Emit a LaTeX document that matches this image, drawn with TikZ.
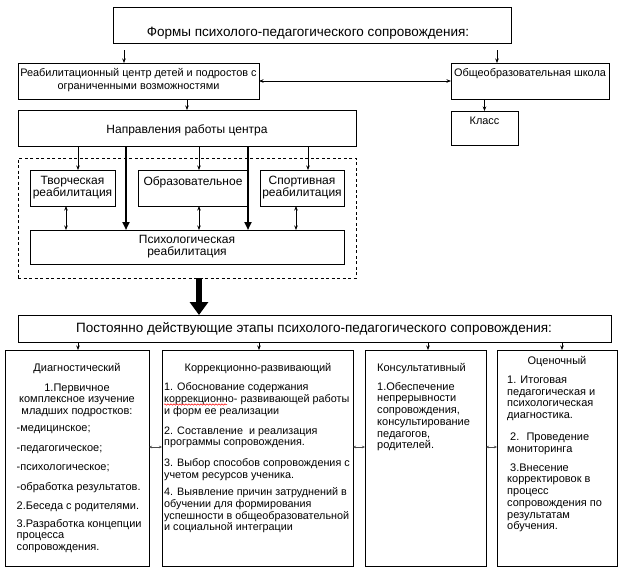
\documentclass[tikz,border=0pt]{standalone}
\usepackage{fontspec}
\setmainfont{Liberation Sans}
\usetikzlibrary{arrows.meta,fit,decorations.pathmorphing}
\begin{document}
\begin{tikzpicture}[x=1pt,y=-1pt,
  box/.style={draw, line width=0.8pt, inner sep=0pt, outer sep=0pt},
  dbox/.style={draw, line width=0.8pt, dash pattern=on 3pt off 2.5pt, inner sep=0pt, outer sep=0pt},
  ttl/.style={font=\fontsize{13.5}{15}\selectfont, inner sep=0pt},
  mid/.style={font=\fontsize{12}{12}\selectfont, align=center, inner sep=0pt},
  sml/.style={font=\fontsize{10.9}{13}\selectfont, align=center, inner sep=0pt},
  col/.style={font=\fontsize{11}{11.7}\selectfont, inner sep=0pt, execute at begin node=\strut},
  kcol/.style={font=\fontsize{10.8}{11.7}\selectfont, inner sep=0pt, execute at begin node=\strut},
  arr/.style={-{Stealth[length=4.5pt,width=3.5pt]}, line width=0.6pt},
  darr/.style={{Stealth[length=4.5pt,width=3.5pt]}-{Stealth[length=4.5pt,width=3.5pt]}, line width=0.6pt},
  tarr/.style={-{Triangle[length=8pt,width=7pt]}, line width=2.4pt},
  barr/.style={-{Triangle[length=13pt,width=18pt]}, line width=6pt},
  sarr/.style={{Stealth[length=3pt,width=2.5pt]}-{Stealth[length=3pt,width=2.5pt]}, line width=0.4pt, black!70}
]
\fill[white] (0,0) rectangle (622,571);
\useasboundingbox (0,0) rectangle (622,571);

% coordinates for connector positions
\coordinate (x124) at (124,0);
\coordinate (x497) at (497,0);
\coordinate (x78) at (78,0);
\coordinate (x199) at (199,0);
\coordinate (x308) at (308,0);
\coordinate (x126) at (126,0);
\coordinate (x248) at (248,0);
\coordinate (x66) at (66,0);
\coordinate (x296) at (296,0);
\coordinate (xs1) at (78,0);
\coordinate (xs2) at (259,0);
\coordinate (xs3) at (428,0);
\coordinate (xs4) at (562,0);
\coordinate (y447) at (0,447);

% top part
\node[box, fit={(113,7)(511,43)}] (top) {};
\node[ttl] (toptxt) at (308,33) {Формы психолого-педагогического сопровождения:};
\node[box, fit={(18,63)(259,99)}] (reh) {};
\node[sml] (rehtxt) at (138.5,80.5) {Реабилитационный центр детей и подростов с\\ограниченными возможностями};
\node[box, fit={(451,63)(609,99)}] (sch) {};
\node[sml] (schtxt) at (530,74) {Общеобразовательная школа};
\node[box, fit={(451,111)(518,145)}] (kl) {};
\node[sml] (kltxt) at (484.5,121) {Класс};
\node[box, fit={(18,110)(356,146)}] (napr) {};
\node[mid] (naprtxt) at (187,130) {Направления работы центра};

% dashed group
\node[dbox, fit={(18,158)(356,278)}] (dash) {};
\node[box, fit={(30,170)(115,206)}] (tv) {};
\node[mid] (tvtxt) at (72.5,188) {Творческая\\реабилитация};
\node[box, fit={(138,170)(248,206)}] (obr) {};
\node[mid] (obrtxt) at (193,182) {Образовательное};
\node[box, fit={(260,170)(344,206)}] (sp) {};
\node[mid] (sptxt) at (302,188) {Спортивная\\реабилитация};
\node[box, fit={(30,230)(344,264)}] (ps) {};
\node[mid] (pstxt) at (187,247) {Психологическая\\реабилитация};

% stage bar
\node[box, fit={(18,315)(611,342)}] (stage) {};
\node[ttl] (stagetxt) at (314,329) {Постоянно действующие этапы психолого-педагогического сопровождения:};

% columns
\node[box, fit={(5,350)(149,566)}] (dg) {};
\node[box, fit={(162,350)(353,566)}] (kr) {};
\node[box, fit={(365,350)(486,566)}] (ks) {};
\node[box, fit={(497,350)(617,566)}] (oc) {};

\node[col, align=center, anchor=north] (dgA) at (77,362.7)
  {Диагностический\\[8.3pt]1.Первичное\\комплексное изучение\\младших подростков:};
\node[col, align=left, anchor=north west] (dgB) at (16.5,425.7)
  {-медицинское;\\[7.5pt]-педагогическое;\\[7.5pt]-психологическое;\\[8.3pt]-обработка результатов.\\[7.3pt]2.Беседа с родителями.\\[6.3pt]3.Разработка концепции\\процесса\\сопровождения.};

\node[col, align=center, anchor=north] (krA) at (258,362.7) {Коррекционно-развивающий};
\node[kcol, align=left, anchor=north west] (krB) at (164,382.7)
  {1. Обоснование содержания\\коррекционно- развивающей работы\\и форм ее реализации\\[8.3pt]2. Составление~ и реализация\\программы сопровождения.\\[9.3pt]3. Выбор способов сопровождения с\\учетом ресурсов ученика.\\[5.3pt]4. Выявление причин затруднений в\\обучении для формирования\\успешности в общеобразовательной\\и социальной интеграции};

\node[col, align=left, anchor=north west] (ksA) at (377,362.7)
  {Консультативный\\[7.5pt]1.Обеспечение\\непрерывности\\сопровождения,\\консультирование\\педагогов,\\родителей.};

\node[col, align=center, anchor=north] (ocA) at (557,355.7) {Оценочный};
\node[col, align=left, anchor=north west] (ocB) at (507,375.7)
  {1. Итоговая\\педагогическая и\\психологическая\\диагностика.\\[10.3pt]\hspace{3pt}2.~ Проведение\\мониторинга\\[7.3pt]\hspace{3pt}3.Внесение\\корректировок в\\процесс\\сопровождения по\\результатам\\обучения.};

% red spell-check underline
\coordinate (w1) at (164,404.5);
\coordinate (w2) at (227,404.5);
\draw[red, line width=0.5pt, decorate, decoration={snake, amplitude=0.7pt, segment length=3pt}] (w1) -- (w2);

% connectors
\draw[arr] ([yshift=-7pt]top.south -| x124) -- (reh.north -| x124);
\draw[arr] ([yshift=-7pt]top.south -| x497) -- (sch.north -| x497);
\draw[darr] (reh.east) -- (sch.west);
\draw[arr] (reh.south -| napr.north) -- (napr.north);
\draw[arr] (sch.south -| kl.north) -- (kl.north);
\draw[arr] (napr.south -| x78) -- (tv.north -| x78);
\draw[arr] (napr.south -| x199) -- (obr.north -| x199);
\draw[arr] (napr.south -| x308) -- (sp.north -| x308);
\draw[tarr] (napr.south -| x126) -- (ps.north -| x126);
\draw[tarr] (napr.south -| x248) -- (ps.north -| x248);
\draw[darr] (tv.south -| x66) -- (ps.north -| x66);
\draw[darr] (obr.south -| x199) -- (ps.north -| x199);
\draw[darr] (sp.south -| x296) -- (ps.north -| x296);
\draw[barr] (dash.south -| x199) -- (stage.north -| x199);
\draw[arr] (stage.south -| xs1) -- (dg.north -| xs1);
\draw[arr] (stage.south -| xs2) -- (kr.north -| xs2);
\draw[arr] (stage.south -| xs3) -- (ks.north -| xs3);
\draw[arr] (stage.south -| xs4) -- (oc.north -| xs4);
\draw[sarr] (dg.east |- y447) -- (kr.west |- y447);
\draw[sarr] (kr.east |- y447) -- (ks.west |- y447);
\draw[sarr] (ks.east |- y447) -- (oc.west |- y447);
\end{tikzpicture}
\end{document}
